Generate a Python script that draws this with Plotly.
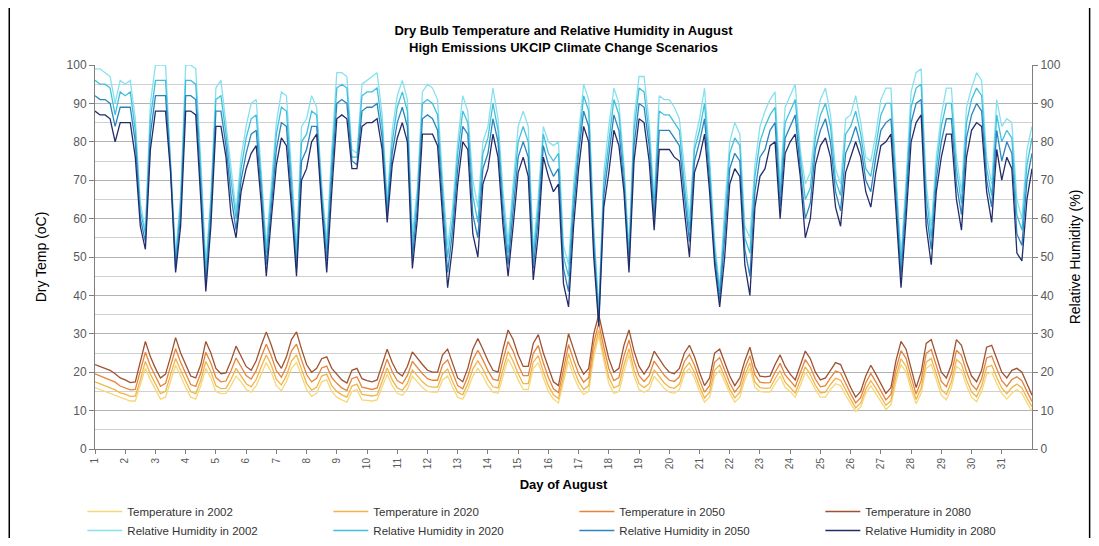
import plotly.graph_objects as go

days = list(range(1, 32))
samples_per_day = 6  # readings every 4 hours (0,4,8,12,16,20 h) + final reading

# Relative humidity (%), 6 readings per day, plus closing reading
rh02 = [99, 99, 98, 97, 90, 96,
        95, 96, 86, 64, 57, 90,
        100, 100, 100, 75, 50, 66,
        100, 100, 99, 75, 48, 66,
        94, 96, 85, 74, 62, 76,
        84, 90, 91, 72, 53, 69,
        85, 93, 92, 73, 52, 84,
        86, 92, 89, 69, 54, 78,
        98, 98, 97, 78, 77, 95,
        96, 97, 98, 87, 65, 83,
        92, 96, 91, 56, 68, 93,
        95, 94, 91, 70, 53, 63,
        80, 92, 88, 70, 63, 80,
        84, 94, 86, 67, 54, 69,
        84, 88, 84, 52, 66, 84,
        80, 79, 80, 53, 48, 69,
        83, 95, 91, 58, 36, 72,
        84, 94, 90, 74, 52, 86,
        97, 97, 85, 65, 92, 91,
        91, 89, 86, 72, 60, 80,
        86, 94, 76, 54, 42, 63,
        80, 85, 82, 58, 55, 74,
        84, 88, 91, 93, 69, 89,
        92, 95, 78, 69, 72, 84,
        91, 94, 87, 73, 69, 86,
        87, 92, 85, 76, 75, 82,
        91, 94, 94, 72, 50, 70,
        93, 98, 99, 69, 58, 76,
        87, 94, 94, 76, 67, 89,
        94, 98, 96, 76, 69, 91,
        84, 86, 85, 65, 60, 78,
        84]
rh20 = [96, 95, 95, 94, 87, 93,
        92, 93, 83, 62, 56, 86,
        96, 96, 96, 74, 49, 64,
        96, 96, 95, 72, 46, 64,
        91, 92, 82, 70, 60, 73,
        81, 86, 87, 70, 51, 66,
        82, 89, 88, 70, 50, 80,
        82, 88, 87, 67, 52, 75,
        94, 95, 94, 76, 76, 92,
        93, 93, 94, 84, 63, 80,
        89, 93, 88, 53, 66, 90,
        91, 90, 87, 67, 50, 60,
        77, 88, 85, 66, 59, 77,
        81, 90, 83, 64, 51, 66,
        80, 84, 80, 50, 63, 82,
        77, 75, 77, 50, 45, 66,
        80, 92, 88, 56, 35, 69,
        80, 91, 87, 72, 50, 83,
        94, 93, 82, 63, 88, 87,
        87, 85, 83, 69, 57, 78,
        83, 90, 73, 52, 41, 59,
        77, 81, 79, 55, 51, 71,
        80, 84, 87, 89, 66, 85,
        88, 91, 76, 65, 68, 81,
        87, 90, 84, 70, 66, 82,
        84, 88, 82, 73, 71, 79,
        87, 90, 90, 69, 48, 67,
        89, 94, 95, 66, 55, 73,
        84, 90, 90, 73, 64, 85,
        91, 94, 92, 73, 66, 87,
        80, 83, 81, 61, 57, 74,
        81]
rh50 = [92, 91, 91, 90, 84, 89,
        89, 89, 80, 60, 54, 82,
        92, 92, 92, 73, 47, 61,
        92, 92, 91, 68, 43, 61,
        88, 88, 79, 66, 57, 70,
        77, 82, 83, 67, 48, 63,
        78, 85, 84, 66, 47, 75,
        78, 84, 84, 65, 49, 71,
        90, 91, 90, 75, 74, 88,
        89, 89, 90, 81, 61, 77,
        85, 89, 84, 50, 63, 86,
        87, 86, 83, 64, 46, 57,
        73, 84, 82, 61, 55, 73,
        77, 86, 80, 61, 48, 62,
        76, 80, 76, 47, 60, 79,
        74, 71, 73, 47, 41, 62,
        77, 88, 84, 53, 33, 66,
        76, 87, 83, 69, 48, 79,
        90, 89, 79, 60, 83, 83,
        83, 81, 79, 66, 54, 75,
        80, 86, 70, 50, 39, 55,
        73, 77, 75, 52, 45, 67,
        76, 78, 83, 85, 63, 81,
        84, 87, 73, 60, 64, 78,
        83, 86, 80, 67, 62, 77,
        80, 84, 79, 70, 67, 76,
        83, 85, 86, 66, 45, 64,
        85, 90, 91, 62, 52, 70,
        80, 86, 86, 69, 61, 81,
        87, 90, 88, 70, 63, 83,
        75, 80, 77, 56, 53, 70,
        77]
rh80 = [88, 87, 87, 86, 80, 85,
        85, 85, 76, 58, 52, 78,
        88, 88, 88, 72, 46, 58,
        88, 88, 87, 65, 41, 58,
        84, 84, 76, 61, 55, 67,
        73, 77, 79, 64, 45, 60,
        74, 81, 79, 63, 45, 70,
        73, 80, 82, 63, 46, 67,
        86, 87, 86, 73, 73, 84,
        85, 85, 86, 78, 59, 74,
        81, 85, 80, 47, 60, 82,
        82, 82, 79, 60, 42, 53,
        69, 80, 78, 56, 50, 69,
        73, 82, 76, 58, 45, 58,
        72, 76, 71, 44, 56, 76,
        71, 67, 69, 43, 37, 58,
        73, 84, 80, 50, 32, 63,
        72, 83, 79, 67, 46, 75,
        86, 85, 75, 57, 78, 78,
        78, 76, 75, 62, 50, 72,
        76, 82, 67, 48, 37, 50,
        69, 73, 71, 48, 40, 63,
        71, 73, 79, 80, 60, 77,
        80, 82, 71, 55, 60, 74,
        79, 81, 76, 63, 58, 72,
        76, 80, 76, 67, 63, 72,
        79, 80, 82, 63, 42, 60,
        80, 85, 87, 58, 48, 67,
        76, 82, 82, 65, 57, 76,
        83, 85, 84, 67, 59, 78,
        70, 76, 73, 51, 49, 65,
        73]

# Dry bulb temperature (oC), 6 readings per day, plus closing reading
t02 = [16, 15.5, 15, 14.5, 14, 13.3,
       13, 12.5, 12.5, 16.5, 21, 18,
       15.5, 13, 13.5, 17.5, 21.8, 19,
       16, 13.5, 13, 16.5, 21, 18.5,
       15, 14.4, 14.5, 16.5, 19, 17.5,
       15.5, 14.8, 16.5, 19.5, 22.5, 20,
       16.5, 15.2, 17.5, 21, 22.5, 19,
       15.5, 13.7, 14.5, 17.5, 18, 15,
       13.5, 12.8, 12.2, 15, 15.5, 12.8,
       12.6, 12.5, 12.8, 16, 19.5, 16.5,
       14.5, 14, 15.5, 19, 17.5, 16,
       15, 14.8, 14.8, 18, 19, 16,
       13.5, 13, 15.5, 19, 21, 19,
       16.5, 14.8, 14.5, 19, 23.5, 21,
       18, 15.5, 15.5, 21, 22.5, 18.5,
       15, 13, 12, 17.5, 23, 19,
       16, 14.2, 15, 24, 29.5, 23,
       17, 14.5, 15, 20, 24.5, 19,
       15.5, 14.8, 15.5, 19, 17.5, 15.8,
       14.8, 14.5, 15.5, 19.5, 21, 18.5,
       15, 12.2, 13.5, 19, 20.5, 17.5,
       14.5, 12.2, 13.5, 18, 21, 16,
       15, 14.8, 14.8, 17, 19, 16,
       15, 13.5, 16.5, 20, 18, 15.5,
       13.5, 13.5, 15.5, 17, 16.5, 14,
       12, 9.8, 11, 14.5, 16.5, 14.5,
       12.5, 10.3, 11.5, 17.5, 22, 20,
       15.5, 11.8, 14.5, 21, 22, 18,
       14, 12.8, 16, 21.5, 20.5, 16.5,
       13.5, 12.3, 15, 19.5, 20, 17,
       14.5, 13, 14.5, 15.5, 14.5, 12,
       10]
t20 = [17.5, 17, 16.5, 16, 15.4, 14.6,
       14.3, 13.7, 13.8, 18, 22.8, 19.5,
       16.9, 14.4, 15, 19.1, 23.6, 20.5,
       17.5, 14.9, 14.4, 17.9, 22.8, 20.1,
       16.5, 15.7, 15.8, 18.1, 21, 19.1,
       17, 16.2, 18.1, 21.4, 24.5, 21.8,
       18.1, 16.7, 19.1, 22.9, 24.5, 20.8,
       17.1, 15.3, 16.1, 19, 19.5, 16.5,
       15, 14.1, 13.5, 16.4, 16.9, 14.2,
       13.9, 13.8, 14.1, 17.5, 21.1, 18,
       15.9, 15.3, 17, 20.6, 19, 17.5,
       16.4, 16.1, 16.1, 19.6, 20.8, 17.5,
       14.8, 14.1, 16.9, 20.8, 23, 20.8,
       18.1, 16.2, 15.9, 20.8, 25.4, 22.9,
       19.6, 17, 17, 22.6, 24.3, 20.1,
       16.5, 14.1, 13.1, 18.9, 24.8, 20.8,
       17.5, 15.5, 16.5, 25.5, 30.9, 24.5,
       18.6, 15.9, 16.5, 21.8, 26.1, 20.6,
       17, 16, 17, 20.6, 19, 17.2,
       16.1, 15.8, 16.9, 20.9, 22.5, 19.9,
       16.3, 13.3, 14.8, 20.5, 21.9, 18.8,
       15.6, 13.3, 14.8, 19.3, 22.4, 17.4,
       16, 15.8, 15.9, 18.3, 20.4, 17.4,
       16.1, 14.6, 17.9, 21.4, 19.4, 16.6,
       14.6, 14.8, 16.8, 18.4, 17.9, 15.3,
       13, 10.7, 12, 15.6, 17.8, 15.8,
       13.6, 11.4, 12.6, 18.9, 23.5, 21.5,
       16.9, 12.9, 15.9, 22.6, 23.6, 19.5,
       15.5, 14.2, 17.5, 23.3, 22.1, 18,
       14.9, 13.6, 16.4, 21.3, 21.8, 18.6,
       15.9, 14.4, 16, 16.9, 15.9, 13.3,
       11]
t50 = [19.6, 19.1, 18.6, 18.1, 17.4, 16.4,
       16, 15.4, 15.5, 20.1, 25.2, 21.6,
       18.8, 16.3, 17.1, 21.4, 26.1, 22.6,
       19.6, 16.8, 16.3, 19.8, 25.2, 22.4,
       18.6, 17.5, 17.7, 20.4, 23.7, 21.4,
       19.1, 18.2, 20.4, 24, 27.3, 24.2,
       20.4, 18.7, 21.4, 25.5, 27.3, 23.2,
       19.4, 17.5, 18.4, 21.1, 21.6, 18.6,
       17.1, 15.9, 15.2, 18.3, 18.8, 16.1,
       15.7, 15.5, 15.9, 19.6, 23.4, 20.1,
       17.8, 17, 19.1, 22.8, 21.1, 19.6,
       18.3, 17.9, 17.9, 21.9, 23.2, 19.6,
       16.5, 15.7, 18.8, 23.2, 25.7, 23.2,
       20.4, 18.2, 17.8, 23.2, 28, 25.5,
       21.9, 19.1, 19.1, 24.9, 26.9, 22.4,
       18.6, 15.7, 14.7, 20.8, 27.2, 23.2,
       19.6, 17.4, 18.6, 27.6, 32.8, 26.6,
       20.9, 17.8, 18.6, 24.2, 28.4, 22.9,
       19.1, 17.6, 19.1, 22.9, 21.1, 19.2,
       17.9, 17.6, 18.8, 22.8, 24.6, 21.8,
       18, 14.8, 16.5, 22.6, 23.8, 20.5,
       17.2, 14.8, 16.5, 21, 24.3, 19.3,
       17.4, 17.2, 17.3, 20, 22.3, 19.3,
       17.7, 16.2, 19.8, 23.3, 21.3, 18.2,
       16.2, 16.5, 18.5, 20.3, 19.8, 17,
       14.4, 12, 13.4, 17.2, 19.7, 17.5,
       15.2, 12.8, 14.2, 20.8, 25.6, 23.6,
       18.8, 14.3, 17.8, 24.9, 25.9, 21.6,
       17.6, 16.2, 19.6, 25.7, 24.4, 20.1,
       16.8, 15.4, 18.3, 23.7, 24.2, 20.9,
       17.8, 16.3, 18.1, 18.8, 17.8, 15,
       12.4]
t80 = [22, 21.5, 21, 20.5, 19.6, 18.5,
       18, 17.3, 17.5, 22.5, 28, 24,
       21, 18.5, 19.5, 24, 29, 25,
       22, 19, 18.5, 22, 28, 25,
       21, 19.6, 19.8, 23, 26.8, 24,
       21.5, 20.5, 23, 27, 30.5, 27,
       23, 21, 24, 28.5, 30.5, 26,
       22, 20, 21, 23.5, 24, 21,
       19.5, 18, 17.2, 20.5, 21, 18.3,
       17.8, 17.5, 18, 22, 26, 22.5,
       20, 19, 21.5, 25.3, 23.5, 22,
       20.5, 20, 20, 24.5, 26, 22,
       18.5, 17.5, 21, 26, 28.8, 26,
       23, 20.5, 20, 26, 31, 28.5,
       24.5, 21.5, 21.5, 27.5, 29.8, 25,
       21, 17.5, 16.5, 23, 30, 26,
       22, 19.5, 21, 30, 35, 29,
       23.5, 20, 21, 27, 31, 25.5,
       21.5, 19.5, 21.5, 25.5, 23.5, 21.5,
       20, 19.6, 21, 25, 27, 24,
       20, 16.5, 18.5, 25, 26, 22.5,
       19, 16.5, 18.5, 23, 26.5, 21.5,
       19, 18.8, 19, 22, 24.5, 21.5,
       19.5, 18, 22, 25.5, 23.5, 20,
       18, 18.5, 20.5, 22.5, 22, 19,
       16, 13.5, 15, 19, 21.8, 19.5,
       17, 14.5, 16, 23, 28, 26,
       21, 16, 20, 27.5, 28.5, 24,
       20, 18.5, 22, 28.5, 27, 22.5,
       19, 17.5, 20.5, 26.5, 27, 23.5,
       20, 18.5, 20.5, 21, 20, 17,
       14]

x_pos = [1 + i / samples_per_day for i in range(len(t02))]

temp_series = [("Temperature in 2002", t02, "#F6D77A"),
               ("Temperature in 2020", t20, "#F1B547"),
               ("Temperature in 2050", t50, "#E5843A"),
               ("Temperature in 2080", t80, "#9E5230")]
rh_series = [("Relative Humidity in 2002", rh02, "#86E1EF"),
             ("Relative Humidity in 2020", rh20, "#41C0DE"),
             ("Relative Humidity in 2050", rh50, "#2A85BE"),
             ("Relative Humidity in 2080", rh80, "#232C6B")]

fig = go.Figure()
for name, vals, col in temp_series:
    fig.add_trace(go.Scatter(x=x_pos, y=vals, name=name, mode="lines",
                             line=dict(color=col, width=1.3), yaxis="y"))
for name, vals, col in rh_series:
    fig.add_trace(go.Scatter(x=x_pos, y=vals, name=name, mode="lines",
                             line=dict(color=col, width=1.3), yaxis="y2"))

font_main = "Liberation Sans, Arial, sans-serif"
font_narrow = "Liberation Sans Narrow, Arial Narrow, Liberation Sans, sans-serif"
tick_col = "#595959"

# page body has an 8px default margin on every side, so the figure is 16px
# smaller than the window to avoid scrollbars
fig.update_layout(
    width=1083, height=530,
    margin=dict(l=87, r=59, t=57, b=89, autoexpand=False),
    paper_bgcolor="white", plot_bgcolor="white",
    font=dict(family=font_main, color="#000000"),
    title=dict(text="<b>Dry Bulb Temperature and Relative Humidity in August<br>"
                    "High Emissions UKCIP Climate Change Scenarios</b>",
               x=0.5, xref="paper", xanchor="center",
               y=0.949, yref="container", yanchor="top",
               font=dict(size=13, family=font_main, color="#000000")),
    showlegend=True,
    legend=dict(orientation="h", x=-0.0135, xanchor="left", y=-0.125, yanchor="top",
                entrywidth=196, entrywidthmode="pixels",
                font=dict(size=11.5, family=font_main, color="#333333"),
                traceorder="normal", itemwidth=35, tracegroupgap=0),
    xaxis=dict(range=[1, 32], tickmode="array", tickvals=days,
               ticktext=[str(d) for d in days], tickangle=-90,
               tickfont=dict(size=10, color=tick_col, family=font_main),
               showline=True, linecolor="#7F7F7F", linewidth=1,
               ticks="outside", ticklen=4, tickcolor="#7F7F7F",
               showgrid=False, zeroline=False,
               title=dict(text="<b>Day of August</b>", standoff=11,
                          font=dict(size=13, family=font_main, color="#000000"))),
    yaxis=dict(range=[0, 100], dtick=10, tick0=0,
               tickfont=dict(size=12, color=tick_col, family=font_main),
               showline=True, linecolor="#7F7F7F", linewidth=1,
               ticks="outside", ticklen=5, tickcolor="#7F7F7F",
               showgrid=True, gridcolor="#B3B3B3", gridwidth=1,
               minor=dict(dtick=5, showgrid=True, gridcolor="#D0D0D0", gridwidth=1),
               zeroline=False,
               title=dict(text="Dry Temp (oC)", standoff=16,
                          font=dict(size=14, family=font_narrow, color="#000000"))),
    yaxis2=dict(range=[0, 100], dtick=10, tick0=0, overlaying="y", side="right",
                tickfont=dict(size=12, color=tick_col, family=font_main),
                showline=True, linecolor="#7F7F7F", linewidth=1,
                ticks="outside", ticklen=5, tickcolor="#7F7F7F",
                showgrid=False, zeroline=False,
                title=dict(text="Relative Humidity (%)", standoff=10,
                           font=dict(size=14, family=font_narrow, color="#000000"))),
    shapes=[
        dict(type="line", xref="paper", yref="paper", x0=-0.0915, x1=-0.0915,
             y0=-0.25, y1=1.2, line=dict(color="#000000", width=1.5)),
        dict(type="line", xref="paper", yref="paper", x0=1.0615, x1=1.0615,
             y0=-0.25, y1=1.2, line=dict(color="#000000", width=1.5)),
    ],
)

fig.write_html("out.html")
